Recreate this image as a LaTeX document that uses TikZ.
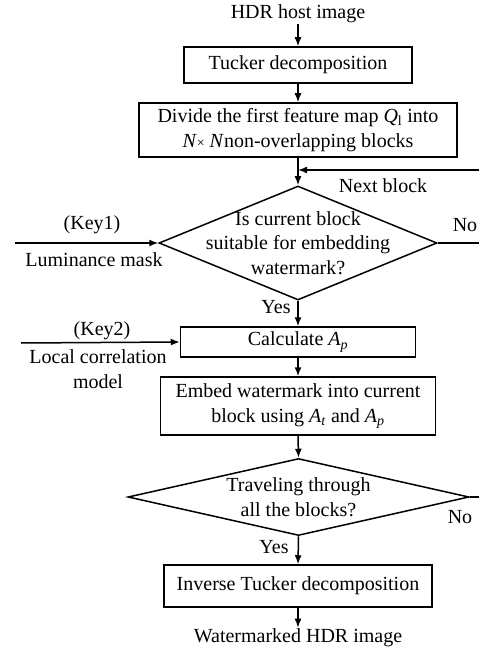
\documentclass[tikz,border=0pt]{standalone}
\usepackage{fontspec}
\setmainfont{Liberation Serif}
\usetikzlibrary{arrows.meta,shapes.geometric}
\newcommand\mytimes{{\fontsize{14}{14}\selectfont ×}}
\newcommand\mysub[1]{\textsubscript{#1}}
\begin{document}
\begin{tikzpicture}[x=1pt,y=-1pt,
  every node/.style={font=\fontsize{20}{24.5}\selectfont, inner sep=1pt},
  line/.style={line width=1.5pt},
  arr/.style={line width=1.5pt, -{Latex[length=9pt,width=7pt]}},
  box/.style={draw, line width=1.5pt, rectangle, inner sep=0pt, align=center},
  dia/.style={draw, line width=1.5pt, diamond, inner sep=0pt},
  lbl/.style={align=center}]
\useasboundingbox (0,0) rectangle (479,652);
% main nodes
\node (top) at (298,14) {HDR host image};
\node[box, minimum width=228pt, minimum height=36pt] (tucker) at (298,65) {Tucker decomposition};
\node[box, minimum width=318pt, minimum height=54pt] (divide) at (298,130) {Divide the first feature map \textit{Q}\mysub{l} into\\ \textit{N}\mytimes{} \textit{N}non-overlapping blocks};
\node[dia, minimum width=278pt, minimum height=114pt] (d1) at (298,243) {};
\node[lbl] (d1t) at (d1.center) {Is current block\\suitable for embedding\\watermark?};
\node[box, minimum width=235pt, minimum height=30pt] (calc) at (298,342) {Calculate \textit{A}\mysub{\textit{p}}};
\node[box, minimum width=275pt, minimum height=58pt] (embed) at (298,406) {Embed watermark into current\\block using \textit{A}\mysub{\textit{t}} and \textit{A}\mysub{\textit{p}}};
\node[dia, minimum width=341pt, minimum height=77pt] (d2) at (298.5,497) {};
\node[lbl] (d2t) at (d2.center) {Traveling through\\all the blocks?};
\node[box, minimum width=268pt, minimum height=42pt] (inv) at (298,586) {Inverse Tucker decomposition};
\node (bot) at (298,638) {Watermarked HDR image};
% side labels
\node (next) at (383,186) {Next block};
\node (key1) at (92,225) {(Key1)};
\node (lum) at (94,260) {Luminance mask};
\node (no1) at (465,225) {No};
\node (yes1) at (276,307) {Yes};
\node (key2) at (102,331) {(Key2)};
\node[lbl] (lcm) at (98,369) {Local correlation\\model};
\node (no2) at (460,517) {No};
\node (yes2) at (274,547) {Yes};
% coordinates at free ends
\coordinate (fbR) at (479,170);
\coordinate (k1) at (15,243);
\coordinate (n1) at (479,243);
\coordinate (k2) at (21,343);
\coordinate (n2) at (479,497);
% connectors
\draw[arr] (top) -- (tucker);
\draw[arr] (tucker) -- (divide);
\draw[arr] (divide.south) -- (d1.north);
\draw[arr] (fbR) -- (fbR -| divide.south);
\draw[arr] (k1) -- (d1.west);
\draw[line] (d1.east) -- (n1);
\draw[arr] (d1.south) -- (calc.north);
\draw[arr] (k2) -- (calc.west);
\draw[arr] (calc) -- (embed);
\draw[arr] (embed.south) -- (d2.north);
\draw[line] (d2.east) -- (n2);
\draw[arr] (d2.south) -- (inv.north);
\draw[arr] (inv) -- (bot);
\end{tikzpicture}
\end{document}
